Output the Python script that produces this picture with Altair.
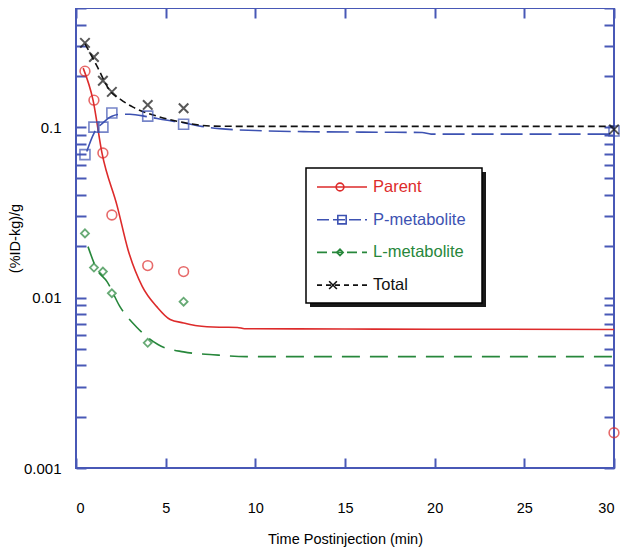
import altair as alt
import pandas as pd

# ---------------- data ----------------
series_names = ["Parent", "P-metabolite", "L-metabolite", "Total"]

t_obs = [0.5, 1, 1.5, 2, 4, 6, 30]
parent_obs = [0.213, 0.144, 0.0705, 0.0305, 0.0154, 0.0142, 0.00161]
pmet_obs = [0.069, 0.100, 0.100, 0.121, 0.116, 0.104, 0.095]
t_obs_l = [0.5, 1, 1.5, 2, 4, 6]
lmet_obs = [0.0238, 0.0150, 0.0142, 0.0106, 0.00543, 0.00946]
total_obs = [0.312, 0.258, 0.187, 0.161, 0.135, 0.129, 0.097]

parent_fit_t = [0.4, 0.95, 1.45, 2.3, 2.9, 3.7, 4.5, 5.25, 6.0, 6.75, 8.0, 9.0, 9.4, 15, 20, 30]
parent_fit_v = [0.222, 0.144, 0.0703, 0.0343, 0.0191, 0.0116, 0.00885, 0.00743, 0.0071,
                0.00683, 0.0067, 0.00668, 0.00656, 0.00654, 0.00652, 0.0065]

pmet_fit_t = [0.6, 1.0, 1.5, 2.0, 2.5, 3.0, 4.0, 5.0, 6.0, 7.0, 8.0, 10, 13, 16, 19.3, 19.8, 30]
pmet_fit_v = [0.072, 0.092, 0.106, 0.116, 0.119, 0.119, 0.115, 0.110, 0.106, 0.101, 0.098,
              0.0955, 0.094, 0.0935, 0.093, 0.091, 0.091]

lmet_fit_t = [0.67, 1.17, 1.73, 2.45, 3.4, 4.57, 6.0, 7.64, 9.5, 30]
lmet_fit_v = [0.0199, 0.0146, 0.0124, 0.00885, 0.00667, 0.0053, 0.0048, 0.00462, 0.0045, 0.0045]

total_fit_t = [0.5, 0.8, 1.17, 1.9, 2.5, 3.18, 4.52, 6.19, 7.64, 10, 30]
total_fit_v = [0.308, 0.27, 0.228, 0.163, 0.145, 0.131, 0.116, 0.1055, 0.1014, 0.101, 0.101]

x_tick_values = [0, 5, 10, 15, 20, 25, 30]
y_label_values = [0.001, 0.01, 0.1]
y_tick_values = [0.001, 0.002, 0.003, 0.004, 0.005, 0.006, 0.007, 0.008, 0.009,
                 0.01, 0.02, 0.03, 0.04, 0.05, 0.06, 0.07, 0.08, 0.09,
                 0.1, 0.2, 0.3, 0.4, 0.5]

# ---------------- styles ----------------
RED = "#dd2b2b"
BLUE = "#3d52b2"
GREEN = "#27873b"
BLACK = "#111111"
FRAME = "#4858b6"
FONT = "Liberation Sans"
W, H = 538, 460

xscale = alt.Scale(domain=[0, 30], nice=False, zero=False)
yscale = alt.Scale(type="log", domain=[0.001, 0.5], nice=False)

def df(t, v):
    return pd.DataFrame({"t": t, "v": v})

def X(axis=None):
    return alt.X("t:Q", scale=xscale, axis=axis)

def Y(axis=None):
    return alt.Y("v:Q", scale=yscale, axis=axis)

tick_common = dict(labels=False, domain=False, grid=False, ticks=True, tickSize=10,
                   tickColor=FRAME, tickWidth=2, title=None)

x_label_axis = alt.Axis(orient="bottom", values=x_tick_values, ticks=False, tickSize=0, domain=False,
                        grid=False, labelPadding=33, labelFontSize=14.5, labelFont=FONT,
                        labelColor="black", title="Time Postinjection (min)", titleFont=FONT,
                        titleFontSize=14.5, titleFontWeight="normal", titleColor="black",
                        titlePadding=18)
y_label_axis = alt.Axis(orient="left", values=y_label_values, ticks=False, tickSize=0, domain=False,
                        grid=False, labelPadding=15, labelFontSize=15, labelFont=FONT,
                        labelColor="black",
                        labelExpr="datum.value == 0.1 ? '0.1' : datum.value == 0.01 ? '0.01' : datum.value == 0.001 ? '0.001' : ''",
                        title="(%ID-kg)/g", titleFont=FONT, titleFontSize=14.5,
                        titleFontWeight="normal", titleColor="black",
                        titleX=-61, titleY=H / 2, titleAngle=270, titleAlign="center",
                        titleBaseline="middle")

x_tick_bottom = alt.Axis(orient="top", offset=-H, values=x_tick_values, **tick_common)
x_tick_top = alt.Axis(orient="bottom", offset=-H, values=x_tick_values, **tick_common)
y_tick_left = alt.Axis(orient="right", offset=-W, values=y_tick_values, **tick_common)
y_tick_right = alt.Axis(orient="left", offset=-W, values=y_tick_values, **tick_common)

X_PATH = "M-1,-1L1,1M1,-1L-1,1"

layers = []

# fitted curves (carry the axes)
layers.append(alt.Chart(df(parent_fit_t, parent_fit_v)).mark_line(
    color=RED, strokeWidth=1.6, interpolate="monotone").encode(x=X(x_label_axis), y=Y(y_label_axis)))
layers.append(alt.Chart(df(pmet_fit_t, pmet_fit_v)).mark_line(
    color=BLUE, strokeWidth=1.6, strokeDash=[22, 7], interpolate="monotone").encode(
    x=X(x_tick_bottom), y=Y(y_tick_left)))
layers.append(alt.Chart(df(lmet_fit_t, lmet_fit_v)).mark_line(
    color=GREEN, strokeWidth=1.6, strokeDash=[18, 10], interpolate="monotone").encode(
    x=X(x_tick_top), y=Y(y_tick_right)))
layers.append(alt.Chart(df(total_fit_t, total_fit_v)).mark_line(
    color=BLACK, strokeWidth=1.6, strokeDash=[7, 4], interpolate="monotone").encode(x=X(), y=Y()))

# observed points
layers.append(alt.Chart(df(t_obs, parent_obs)).mark_point(
    shape="circle", filled=False, color=RED, size=95, strokeWidth=1.6).encode(x=X(), y=Y()))
layers.append(alt.Chart(df(t_obs, pmet_obs)).mark_point(
    shape="square", filled=False, color=BLUE, size=100, strokeWidth=1.6).encode(x=X(), y=Y()))
layers.append(alt.Chart(df(t_obs_l, lmet_obs)).mark_point(
    shape="diamond", filled=False, color=GREEN, size=64, strokeWidth=1.8).encode(x=X(), y=Y()))
layers.append(alt.Chart(df(t_obs, total_obs)).mark_point(
    shape=X_PATH, filled=False, color=BLACK, size=90, strokeWidth=2).encode(x=X(), y=Y()))

# ---------------- legend ----------------
one = pd.DataFrame({"k": [0]})
layers.append(alt.Chart(one).mark_rect(color="black", opacity=0.9).encode(
    x=alt.value(234), x2=alt.value(410), y=alt.value(164), y2=alt.value(299)))
layers.append(alt.Chart(one).mark_rect(fill="white", stroke="black", strokeWidth=1.5).encode(
    x=alt.value(230), x2=alt.value(406), y=alt.value(160), y2=alt.value(295)))

leg_colors = [RED, BLUE, GREEN, BLACK]
leg_dash = [[1, 0], [12, 4], [10, 5], [5, 4]]
leg_shape = ["circle", "square", "diamond", X_PATH]
leg_size = [60, 70, 40, 60]
leg_mx = [264, 266, 264, 257]
for i, name in enumerate(series_names):
    yy = 179 + i * 32.7
    layers.append(alt.Chart(one).mark_rule(color=leg_colors[i], strokeWidth=1.6,
                                           strokeDash=leg_dash[i]).encode(
        x=alt.value(241), x2=alt.value(291), y=alt.value(yy)))
    layers.append(alt.Chart(one).mark_point(shape=leg_shape[i], filled=False, color=leg_colors[i],
                                            size=leg_size[i], strokeWidth=1.6, opacity=1).encode(
        x=alt.value(leg_mx[i]), y=alt.value(yy)))
    layers.append(alt.Chart(one).mark_text(align="left", baseline="middle", font=FONT, fontSize=16.5,
                                           color=leg_colors[i]).encode(
        x=alt.value(297), y=alt.value(yy), text=alt.value(name)))

chart = alt.layer(*layers).resolve_axis(x="independent", y="independent").properties(
    width=W, height=H,
    autosize=alt.AutoSizeParams(type="none"),
    padding={"left": 68, "top": 0, "right": 7, "bottom": 80},
    background="white",
).configure_view(stroke=FRAME, strokeWidth=2)

chart.save("out.html", embed_options={"renderer": "svg", "actions": False})
